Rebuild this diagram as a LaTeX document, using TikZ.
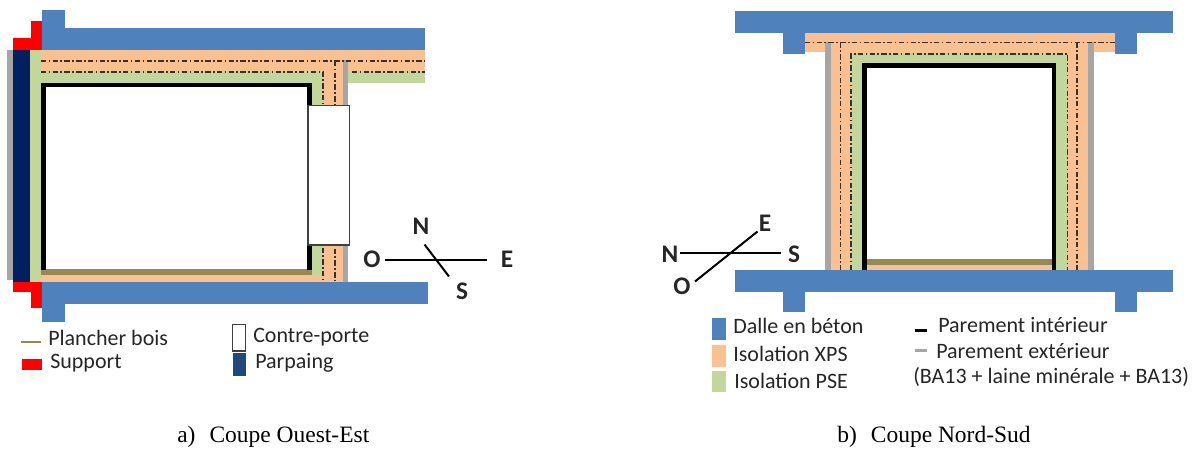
\documentclass[tikz,border=0pt]{standalone}
\usepackage{fontspec}
\setmainfont{Carlito}
\newfontfamily\capfont{Liberation Serif}
\definecolor{slab}{HTML}{4F81BD}
\definecolor{xps}{HTML}{FAC08F}
\definecolor{pse}{HTML}{C3D69B}
\definecolor{ext}{HTML}{A6A6A6}
\definecolor{navy}{HTML}{002060}
\definecolor{wood}{HTML}{948A54}
\definecolor{block}{HTML}{1F497D}
\definecolor{txt}{HTML}{262626}
\tikzset{
  x=0.75pt,y=-0.75pt,
  dd/.style={line width=0.8pt,draw=black!80,dash pattern=on 4pt off 1.8pt on 1.2pt off 1.8pt},
  leg/.style={anchor=west,inner sep=0pt,font=\fontsize{16.5pt}{18pt}\selectfont,text=txt},
  card/.style={inner sep=0pt,font=\fontsize{19pt}{21pt}\selectfont\bfseries,text=black!85},
  captext/.style={inner sep=0pt,font=\capfont\fontsize{17.6pt}{20pt}\selectfont,text=black},
  needle/.style={line width=1.5pt,draw=black},
  door/.style={fill=white,draw=black!75,line width=0.8pt}
}
\begin{document}
\begin{tikzpicture}
\useasboundingbox (0,0) rectangle (1194,452);
\fill[white] (0,0) rectangle (1194,452);
% --- a) Coupe Ouest-Est
\fill[ext] (7,50.5) rectangle (12.5,280);
\fill[navy] (12.5,50) rectangle (30,281.5);
\fill[pse] (30,50) rectangle (41,281.5);
\fill[pse] (41,72) rectangle (323,83);
\fill[pse] (311,83) rectangle (323,275);
\fill[pse] (348,72) rectangle (425,83);
\fill[xps] (41,50) rectangle (425,72.5);
\fill[xps] (323,60) rectangle (343,281.5);
\fill[xps] (41,275) rectangle (323,281.5);
\fill[ext] (343,60.5) rectangle (348,281.5);
\fill[wood] (41,269) rectangle (312,275);
\fill[black] (41,83) rectangle (46,270);
\fill[black] (41,83) rectangle (311.5,87.5);
\fill[black] (307,83) rectangle (311.5,270);
\draw[dd] (41,61) -- (425,61);
\draw[dd] (41,72) -- (323,72) -- (323,281);
\draw[dd] (352,72) -- (425,72);
\draw[dd] (335,61) -- (335,281);
\fill[slab] (42,28) rectangle (425,50.5);
\fill[slab] (42,10) rectangle (65,28);
\fill[slab] (42,281.5) rectangle (428,304);
\fill[slab] (42,304) rectangle (65,322);
\fill[red] (12.5,38.5) rectangle (42,50);
\fill[red] (31,21) rectangle (42,50);
\fill[red] (12.5,281.5) rectangle (42,292);
\fill[red] (31,281.5) rectangle (42,307.5);
\draw[door] (308,105.5) rectangle (349.5,245);
% compass a
\coordinate (aW) at (385,259.5); \coordinate (aE) at (486.5,259.5);
\coordinate (aN) at (424.5,244.5); \coordinate (aS) at (449,276.5);
\draw[needle] (aW) -- (aE);
\draw[needle] (aN) -- (aS);
\node[card] (la1) at (421,226) {N};
\node[card] (la2) at (372,259) {O};
\node[card] (la3) at (507,259) {E};
\node[card] (la4) at (462,291) {S};
% legend a
\draw[wood,line width=2.2pt] (21,342) -- (41,342);
\fill[red] (22,359) rectangle (42,370);
\draw[door,line width=0.9pt] (232.5,324.5) rectangle (245.5,351);
\fill[block] (232.5,353) rectangle (245.5,375.5);
\node[leg] (ta1) at (48,338) {Plancher bois};
\node[leg] (ta2) at (50,363) {Support};
\node[leg] (ta3) at (253,337) {Contre-porte};
\node[leg] (ta4) at (255,363) {Parpaing};
\node[captext,anchor=west] (capa) at (177,437) {a)\hspace{0.6em}Coupe Ouest-Est};
% --- b) Coupe Nord-Sud
\fill[xps] (805,33) rectangle (1115,52.5);
\fill[xps] (830.5,42) rectangle (1088,270);
\fill[ext] (825.3,42) rectangle (830.7,270);
\fill[ext] (1088,42) rectangle (1093.5,270);
\fill[pse] (851,54) rectangle (1067.7,264);
\fill[black] (862,63.5) rectangle (1056.3,270);
\fill[white] (867,68.5) rectangle (1051.7,259.5);
\fill[wood] (867,259.3) rectangle (1051.7,264.7);
\fill[xps] (867,264.7) rectangle (1051.7,270);
\fill[pse] (851,264) rectangle (862,270);
\fill[pse] (1056.3,264) rectangle (1067.7,270);
\draw[dd] (805,42.5) -- (1115,42.5);
\draw[dd] (840.7,42.5) -- (840.7,270);
\draw[dd] (1077,42.5) -- (1077,270);
\draw[dd] (851,270) -- (851,54) -- (1067.7,54) -- (1067.7,270);
\fill[slab] (734.5,11) rectangle (1173,33.5);
\fill[slab] (783,33) rectangle (805,54);
\fill[slab] (1115,33) rectangle (1137,54);
\fill[slab] (734.5,270) rectangle (1173,292);
\fill[slab] (783,292) rectangle (805,311.5);
\fill[slab] (1115,292) rectangle (1137,311.5);
% compass b
\coordinate (bW) at (680,252.5); \coordinate (bE) at (780.5,252.5);
\coordinate (bO) at (695,281.5); \coordinate (bN) at (757.5,231.5);
\draw[needle] (bW) -- (bE);
\draw[needle] (bO) -- (bN);
\node[card] (lb1) at (670,254) {N};
\node[card] (lb2) at (765,223) {E};
\node[card] (lb3) at (794,254) {S};
\node[card] (lb4) at (682,286) {O};
% legend b
\fill[slab] (712,318) rectangle (725.5,340);
\fill[xps] (712,344.5) rectangle (725.5,367);
\fill[pse] (712,370.5) rectangle (725.5,392);
\draw[black,line width=2.2pt] (915,330.5) -- (927,330.5);
\draw[ext,line width=2.2pt] (915,350.5) -- (927,350.5);
\node[leg] (tb1) at (733,326) {Dalle en béton};
\node[leg] (tb2) at (733,354) {Isolation XPS};
\node[leg] (tb3) at (734,381) {Isolation PSE};
\node[leg] (tb4) at (938,325) {Parement intérieur};
\node[leg] (tb5) at (936,351) {Parement extérieur};
\node[leg] (tb6) at (913,377) {(BA13 + laine minérale + BA13)};
\node[captext,anchor=west] (capb) at (837,437) {b)\hspace{0.6em}Coupe Nord-Sud};
\end{tikzpicture}
\end{document}
